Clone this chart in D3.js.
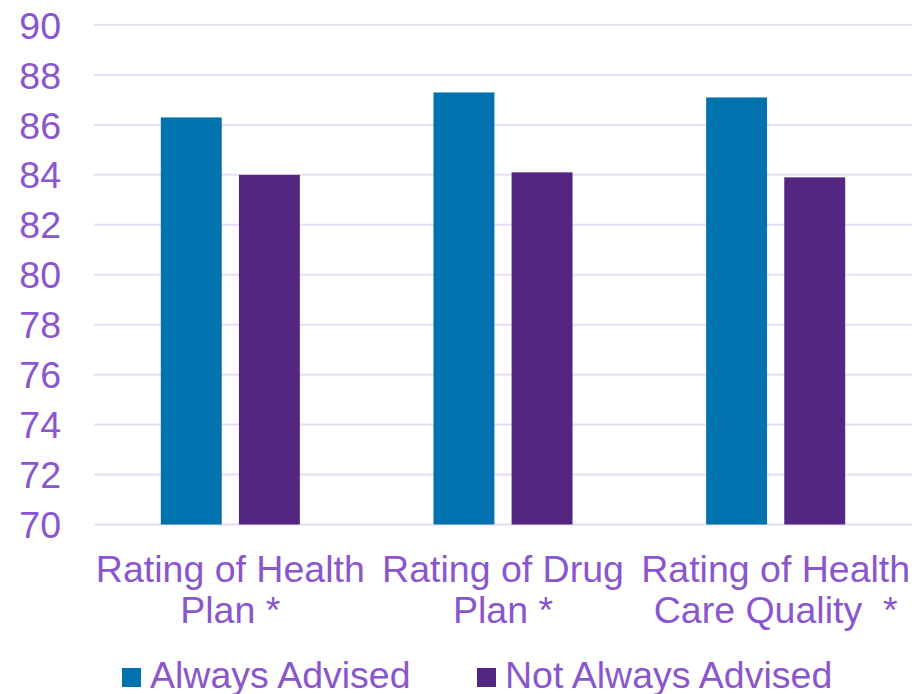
<!DOCTYPE html>
<html>
<head>
<meta charset="utf-8">
<script src="https://cdn.jsdelivr.net/npm/d3@7"></script>
<style>
  html, body { margin: 0; padding: 0; background: #ffffff; }
  svg { display: block; font-family: "Liberation Sans", Arial, sans-serif; }
</style>
</head>
<body>
<svg id="chart" width="918" height="694"></svg>
<script>
// Category labels, split into lines
const categories = ["Health Plan", "Drug Plan", "Health Care Quality"];
const categoryLines = [
  ["Rating of Health", "Plan *"],
  ["Rating of Drug", "Plan *"],
  ["Rating of Health", "Care Quality  *"]
];
const seriesNames = ["Always Advised", "Not Always Advised"];
const alwaysAdvised = [86.3, 87.3, 87.1];
const notAlwaysAdvised = [84.0, 84.1, 83.9];
const yTicks = [70, 72, 74, 76, 78, 80, 82, 84, 86, 88, 90];

const colors = ["#0073AF", "#532781"];
const textColor = "#8A56CE";
const gridColor = "#E8DCF4";
const labelSize = "37.5px";

const svg = d3.select("#chart");
const plotLeft = 94, plotRight = 912, plotTop = 25, plotBottom = 524.5;

const y = d3.scaleLinear().domain([70, 90]).range([plotBottom, plotTop]);
const x0 = d3.scaleBand().domain(categories).range([plotLeft, plotRight])
  .paddingInner(0.49).paddingOuter(0.245);
const x1 = d3.scaleBand().domain(seriesNames).range([0, x0.bandwidth()])
  .paddingInner(0.22).paddingOuter(0);

// Gridlines
svg.append("g")
  .selectAll("line")
  .data(yTicks)
  .join("line")
  .attr("x1", plotLeft).attr("x2", plotRight)
  .attr("y1", d => y(d)).attr("y2", d => y(d))
  .attr("stroke", gridColor).attr("stroke-width", 2);

// Y axis labels
const yAxis = d3.axisLeft(y).tickValues(yTicks).tickSize(0).tickPadding(0);
const yg = svg.append("g").attr("transform", "translate(61,0)").call(yAxis);
yg.select(".domain").remove();
yg.attr("font-family", null).attr("font-size", null);
yg.selectAll("text")
  .attr("fill", textColor)
  .style("font-size", labelSize)
  .attr("dy", "0.35em");

// Bars
const rows = categories.map((c, i) => ({ cat: c, vals: [alwaysAdvised[i], notAlwaysAdvised[i]] }));
svg.append("g")
  .selectAll("g")
  .data(rows)
  .join("g")
  .attr("transform", d => `translate(${x0(d.cat)},0)`)
  .selectAll("rect")
  .data(d => d.vals.map((v, j) => ({ name: seriesNames[j], v, j })))
  .join("rect")
  .attr("x", d => x1(d.name))
  .attr("width", x1.bandwidth())
  .attr("y", d => y(d.v))
  .attr("height", d => y(70) - y(d.v))
  .attr("fill", d => colors[d.j]);

// Category labels
const catG = svg.append("g");
categories.forEach((c, i) => {
  const cx = x0(c) + x0.bandwidth() / 2;
  const t = catG.append("text")
    .attr("text-anchor", "middle")
    .attr("fill", textColor)
    .style("font-size", labelSize)
    .style("white-space", "pre")
    .attr("xml:space", "preserve");
  categoryLines[i].forEach((line, k) => {
    t.append("tspan").attr("x", cx).attr("y", 582 + k * 41).text(line);
  });
});

// Legend
const legendX = [122, 477];
const legend = svg.append("g");
seriesNames.forEach((name, j) => {
  legend.append("rect")
    .attr("x", legendX[j]).attr("y", 668)
    .attr("width", 19).attr("height", 19)
    .attr("fill", colors[j]);
  legend.append("text")
    .attr("x", legendX[j] + 28).attr("y", 688)
    .attr("fill", textColor)
    .style("font-size", labelSize)
    .text(name);
});
</script>
</body>
</html>
